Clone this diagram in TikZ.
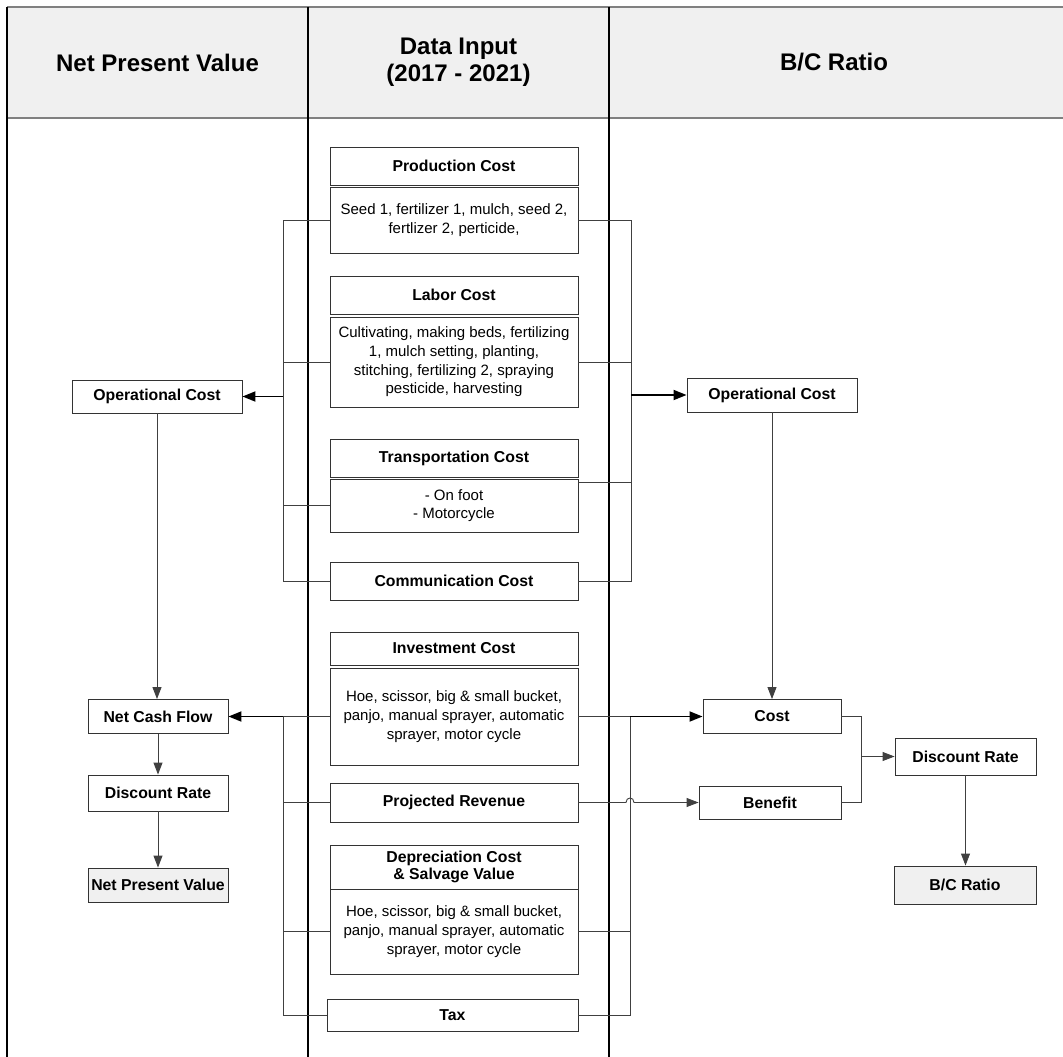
\documentclass[tikz,border=0pt]{standalone}
\usepackage{fontspec}
\setmainfont{Liberation Sans}
\usetikzlibrary{arrows.meta}

\begin{document}
\begin{tikzpicture}
[x=1pt,y=-1pt,
  boxdecorate/.style={shape=rectangle,draw=black!80,line width=0.9pt,inner sep=2pt,
    align=center,font=\fontsize{15}{18.7}\selectfont},
  titledecorate/.style={boxdecorate,font=\bfseries\fontsize{15.8}{17.7}\selectfont},
  resultdecorate/.style={titledecorate,fill=black!6},
  headdecorate/.style={align=center,font=\bfseries\fontsize{24}{27}\selectfont},
  linedecorate/.style={draw=black!75,line width=0.9pt},
  arrowdecorate/.style={-{Triangle[length=13pt,width=10pt]},draw=black,line width=1.8pt},
  thinarrowdecorate/.style={-{Triangle[length=12pt,width=9pt]},draw=black!75,line width=0.9pt}]
\useasboundingbox (0,0) rectangle (1063,1057);
%% frame and header
\fill[black!6] (7,7) rectangle (1070,118);
\draw[black!50,line width=2pt] (7,7) -- (1070,7) (7,118) -- (1070,118);
\foreach \x in {7,308,609} {
  \draw[line width=1.1pt] (\x,7) -- (\x,1060);
}
\node (hNPV) at (157.5,62.5) [headdecorate] {Net Present Value};
\node (hData) at (458.5,62.5) [headdecorate] {Data Input\\(2017 - 2021)};
\node (hBC) at (834,62.5) [headdecorate] {B/C Ratio};
%% data input boxes
\foreach \nodename/\y/\h/\txt in {prodT/166/38/Production Cost,
  laborT/295/38/Labor Cost, transT/458/38/Transportation Cost,
  commT/581/38/Communication Cost, invT/648.5/33/Investment Cost,
  revT/802.5/39/Projected Revenue} {
  \node (\nodename) at (454,\y) [titledecorate,minimum width=248,minimum height=\h] {\txt};
}
\node (prodD) at (454,220) [boxdecorate,minimum width=248,minimum height=66]
  {Seed 1, fertilizer 1, mulch, seed 2,\\fertlizer 2, perticide,};
\node (laborD) at (454,362) [boxdecorate,minimum width=248,minimum height=90]
  {Cultivating, making beds, fertilizing\\1, mulch setting, planting,\\stitching, fertilizing 2, spraying\\pesticide, harvesting};
\node (transD) at (454,505.5) [boxdecorate,minimum width=248,minimum height=53]
  {- On foot\\- Motorcycle};
\node (invD) at (454,716.5) [boxdecorate,minimum width=248,minimum height=97]
  {Hoe, scissor, big \& small bucket,\\panjo, manual sprayer, automatic\\sprayer, motor cycle};
\node (depT) at (454,867) [titledecorate,minimum width=248,minimum height=44]
  {Depreciation Cost\\\& Salvage Value};
\node (depD) at (454,931.5) [boxdecorate,minimum width=248,minimum height=85]
  {Hoe, scissor, big \& small bucket,\\panjo, manual sprayer, automatic\\sprayer, motor cycle};
\node (tax) at (452.5,1015) [titledecorate,minimum width=251,minimum height=32] {Tax};
%% npv side
\node (opL) at (157,396.5) [titledecorate,minimum width=170,minimum height=33] {Operational Cost};
\node (ncfL) at (158,716.5) [titledecorate,minimum width=140,minimum height=34] {Net Cash Flow};
\node (drL) at (158,793) [titledecorate,minimum width=140,minimum height=36] {Discount Rate};
\node (npvL) at (158,885) [resultdecorate,minimum width=140,minimum height=34] {Net Present Value};
%% b/c side
\node (opR) at (772,395) [titledecorate,minimum width=170,minimum height=34] {Operational Cost};
\node (cost) at (772,716.5) [titledecorate,minimum width=138,minimum height=34] {Cost};
\node (benefit) at (770,802.5) [titledecorate,minimum width=142,minimum height=33] {Benefit};
\node (drR) at (965.5,756.5) [titledecorate,minimum width=141,minimum height=37] {Discount Rate};
\node (bcR) at (965,885) [resultdecorate,minimum width=142,minimum height=38] {B/C Ratio};
%% bus lines
\coordinate (busL) at (283,0);
\coordinate (busR) at (631,0);
\coordinate (busRlow) at (630,0);
\coordinate (merge) at (861,0);
\coordinate (jump) at (revT.east -| busRlow);
%% operational cost
\draw[linedecorate] (prodD.west) -- (prodD.west -| busL) -- (commT.west -| busL) -- (commT.west);
\draw[linedecorate] (prodD.east) -- (prodD.east -| busR) -- (commT.east -| busR) -- (commT.east);
\foreach \nodename in {laborD, transD} {
  \draw[linedecorate] (\nodename.west) -- (\nodename.west -| busL);
}
\draw[linedecorate] (laborD.east) -- (laborD.east -| busR);
\draw[linedecorate] ([yshift=-4pt]transD.north east) -- ([yshift=-4pt]transD.north east -| busR);
\draw[arrowdecorate] (opL.east -| busL) -- (opL.east);
\draw[arrowdecorate] (opR.west -| busR) -- (opR.west);
%% cash flow and cost
\draw[linedecorate] (invD.west) -- (invD.west -| busL) -- (tax.west -| busL) -- (tax.west);
\draw[linedecorate] (invD.east) -- (invD.east -| busRlow) -- (tax.east -| busRlow) -- (tax.east);
\foreach \nodename in {revT, depD} {
  \draw[linedecorate] (\nodename.west) -- (\nodename.west -| busL);
}
\draw[linedecorate] (depD.east) -- (depD.east -| busRlow);
\draw[arrowdecorate] (ncfL.east -| busL) -- (ncfL.east);
\draw[arrowdecorate] (cost.west -| busRlow) -- (cost.west);
\draw[thinarrowdecorate] (revT.east) -- ([xshift=-4pt]jump)
  .. controls ([xshift=-4pt,yshift=6pt]jump) and ([xshift=4pt,yshift=6pt]jump) .. ([xshift=4pt]jump)
  -- (benefit.west);
%% downward flow
\foreach \startnode/\endnode in {opL/ncfL, ncfL/drL, drL/npvL, opR/cost, drR/bcR} {
  \draw[thinarrowdecorate] (\startnode.south) -- (\startnode.south |- \endnode.north);
}
\draw[linedecorate] (cost.east) -- (cost.east -| merge) -- (benefit.east -| merge) -- (benefit.east);
\draw[thinarrowdecorate] (drR.west -| merge) -- (drR.west);
\end{tikzpicture}
\end{document}
